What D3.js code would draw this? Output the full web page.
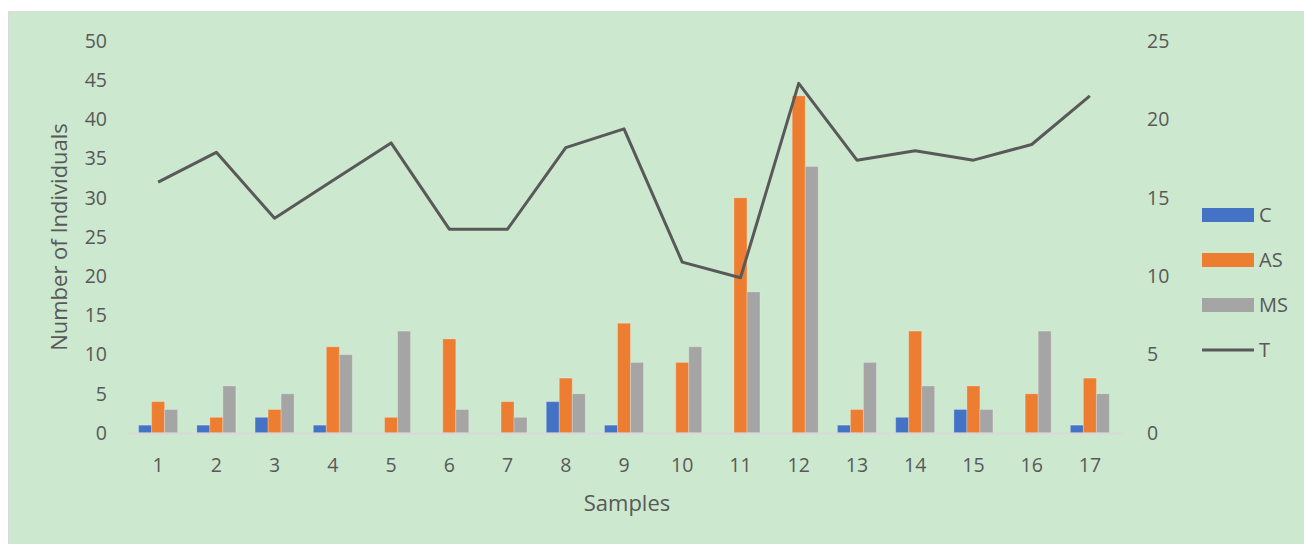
<!DOCTYPE html>
<html>
<head>
<meta charset="utf-8">
<title>Samples</title>
<script src="https://d3js.org/d3.v7.min.js"></script>
<style>
	body { margin: 0; background: #fff; }
	svg text { font-family: "Open Sans", sans-serif; fill: #595959; }
</style>
</head>
<body>
<div id="chart"></div>
<script>
var samples = d3.range(1, 18).map(String);
var valC  = [1, 1, 2, 1, 0, 0, 0, 4, 1, 0, 0, 0, 1, 2, 3, 0, 1];
var valAS = [4, 2, 3, 11, 2, 12, 4, 7, 14, 9, 30, 43, 3, 13, 6, 5, 7];
var valMS = [3, 6, 5, 10, 13, 3, 2, 5, 9, 11, 18, 34, 9, 6, 3, 13, 5];
var valT  = [16, 17.9, 13.7, 16.1, 18.5, 13, 13, 18.2, 19.4, 10.9, 9.9, 22.3, 17.4, 18, 17.4, 18.4, 21.5];
var leftTicks  = [0, 5, 10, 15, 20, 25, 30, 35, 40, 45, 50];
var rightTicks = [0, 5, 10, 15, 20, 25];

var seriesNames = ['C', 'AS', 'MS'];
var colors = { C: '#4472C4', AS: '#ED7D31', MS: '#A5A5A5', T: '#595959' };
var barData = [valC, valAS, valMS];

var W = 1304, H = 544;
var svg = d3.select('#chart').append('svg').attr('width', W).attr('height', H);

// panel
svg.append('rect').attr('x', 8.5).attr('y', 11.5).attr('width', W).attr('height', H)
	.attr('fill', '#CCE8CF').attr('stroke', '#D9D9D9').attr('stroke-width', 1);

var plot = { left: 129, right: 1119, top: 41, bottom: 433 };

var x = d3.scaleBand().domain(samples).range([plot.left, plot.right]).paddingInner(0.33).paddingOuter(0.165);
var xs = d3.scaleBand().domain(seriesNames).range([0, x.bandwidth()]);
var y = d3.scaleLinear().domain([0, 50]).range([plot.bottom, plot.top]);
var y2 = d3.scaleLinear().domain([0, 25]).range([plot.bottom, plot.top]);

// bars
seriesNames.forEach(function(name, si) {
	svg.append('g').selectAll('rect')
		.data(barData[si])
		.enter().append('rect')
		.attr('x', function(d, i) { return x(samples[i]) + xs(name); })
		.attr('y', function(d) { return y(d); })
		.attr('width', xs.bandwidth())
		.attr('height', function(d) { return y(0) - y(d); })
		.attr('fill', colors[name])
		.attr('stroke', 'rgba(255,255,255,0.25)')
		.attr('stroke-width', 1)
		.attr('display', function(d) { return d > 0 ? null : 'none'; });
});

// baseline
svg.append('line').attr('x1', plot.left).attr('x2', plot.right + 5)
	.attr('y1', plot.bottom + 0.5).attr('y2', plot.bottom + 0.5)
	.attr('stroke', '#D9D9D9').attr('stroke-width', 2);

// line T
var line = d3.line()
	.x(function(d, i) { return x(samples[i]) + x.bandwidth() / 2; })
	.y(function(d) { return y2(d); });
svg.append('path').datum(valT)
	.attr('d', line).attr('fill', 'none')
	.attr('stroke', colors.T).attr('stroke-width', 3).attr('stroke-linejoin', 'round');

// left axis
var axL = svg.append('g').attr('transform', 'translate(' + 107 + ',0)')
	.call(d3.axisLeft(y).tickValues(leftTicks).tickSize(0).tickPadding(0));
axL.select('.domain').remove();
axL.selectAll('text').style('font-size', '19.5px').attr('fill', '#595959');

// right axis
var axR = svg.append('g').attr('transform', 'translate(' + 1147 + ',0)')
	.call(d3.axisRight(y2).tickValues(rightTicks).tickSize(0).tickPadding(0));
axR.select('.domain').remove();
axR.selectAll('text').style('font-size', '19.5px').attr('fill', '#595959');

// bottom axis
var axB = svg.append('g').attr('transform', 'translate(0,472)')
	.call(d3.axisBottom(x).tickSize(0).tickPadding(0));
axB.select('.domain').remove();
axB.selectAll('text').style('font-size', '19.5px').attr('fill', '#595959').attr('dy', 0).attr('y', 0);

// axis titles
svg.append('text').attr('x', 627).attr('y', 511).attr('text-anchor', 'middle')
	.style('font-size', '22px').text('Samples');
svg.append('text').attr('transform', 'translate(67,237) rotate(-90)').attr('text-anchor', 'middle')
	.style('font-size', '22px').text('Number of Individuals');

// legend
var legendItems = ['C', 'AS', 'MS', 'T'];
var lg = svg.append('g').selectAll('g').data(legendItems).enter().append('g')
	.attr('transform', function(d, i) { return 'translate(1202,' + (215 + i * 45) + ')'; });
lg.each(function(d) {
	var g = d3.select(this);
	if (d === 'T') {
		g.append('line').attr('x1', 0).attr('x2', 52).attr('y1', 0).attr('y2', 0)
			.attr('stroke', colors.T).attr('stroke-width', 3);
	} else {
		g.append('rect').attr('x', 0).attr('y', -7).attr('width', 52).attr('height', 14).attr('fill', colors[d]);
	}
	g.append('text').attr('x', 57).attr('y', 0).attr('dy', '0.35em').style('font-size', '20px').text(d);
});
</script>
</body>
</html>
